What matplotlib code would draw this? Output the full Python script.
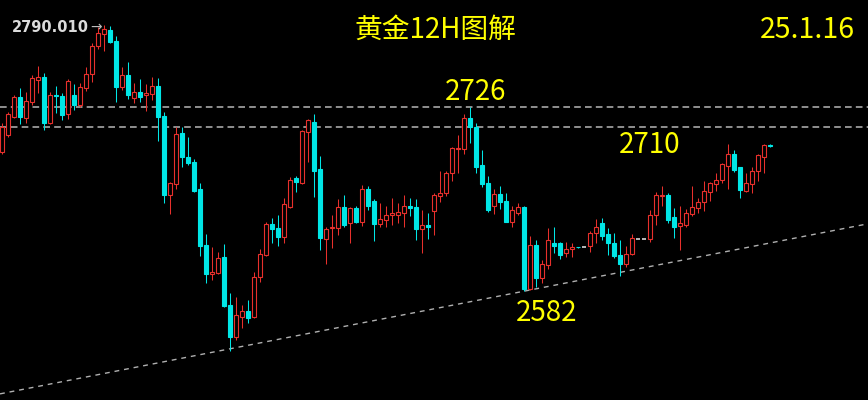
import numpy as np
import matplotlib.pyplot as plt
from matplotlib.patches import Rectangle

plt.rcParams['font.family'] = ['Noto Sans CJK SC', 'DejaVu Sans']

# 12H candles, oldest first
opens = [2691.0, 2704.1, 2718.4, 2733.6, 2717.2, 2730.2, 2747.1, 2749.7, 2713.7, 2735.4,
         2734.6, 2720.5, 2735.4, 2727.6, 2740.6, 2751.8, 2773.7, 2783.1, 2786.3, 2777.9,
         2741.9, 2751.0, 2732.8, 2738.0, 2735.4, 2736.2, 2742.4, 2719.0, 2657.1, 2665.7,
         2705.4, 2687.1, 2683.2, 2661.6, 2618.0, 2595.3, 2596.3, 2608.8, 2571.0, 2545.8,
         2561.9, 2566.6, 2561.4, 2592.7, 2610.2, 2634.4, 2631.1, 2624.0, 2647.5, 2670.2,
         2666.8, 2706.7, 2714.5, 2677.2, 2622.5, 2631.1, 2631.1, 2647.5, 2635.5, 2646.7,
         2636.2, 2661.6, 2652.7, 2634.4, 2637.6, 2641.5, 2641.5, 2643.3, 2648.5, 2647.5,
         2630.3, 2633.7, 2644.8, 2656.4, 2658.5, 2674.1, 2692.9, 2692.9, 2717.2, 2710.6,
         2680.6, 2666.3, 2648.5, 2657.9, 2652.7, 2636.2, 2643.3, 2648.0, 2583.3, 2618.0,
         2591.9, 2602.4, 2619.3, 2619.8, 2611.5, 2614.6, 2616.4, 2616.2, 2617.2, 2627.2,
         2635.5, 2626.6, 2619.8, 2610.2, 2603.1, 2611.0, 2622.9, 2622.9, 2622.5, 2641.5,
         2656.4, 2657.1, 2639.7, 2632.9, 2633.7, 2642.3, 2646.7, 2651.9, 2659.7, 2665.7,
         2668.9, 2679.8, 2689.2, 2678.8, 2660.5, 2665.7, 2676.2, 2687.1, 2696.0]
highs = [2713.5, 2722.3, 2735.4, 2740.6, 2738.0, 2751.0, 2758.1, 2752.4, 2738.0, 2742.4,
         2736.7, 2747.7, 2744.0, 2744.5, 2757.1, 2775.9, 2788.8, 2790.0, 2789.5, 2781.6,
         2757.1, 2761.5, 2745.0, 2747.7, 2744.0, 2749.7, 2748.5, 2722.3, 2667.5, 2710.1,
         2710.1, 2702.8, 2685.1, 2666.3, 2626.6, 2616.2, 2612.8, 2618.6, 2580.7, 2577.1,
         2571.0, 2575.0, 2597.1, 2614.6, 2636.2, 2638.9, 2641.5, 2654.5, 2671.0, 2672.0,
         2708.0, 2716.4, 2720.5, 2687.7, 2632.3, 2641.5, 2653.8, 2657.1, 2647.5, 2648.5,
         2665.0, 2664.2, 2653.8, 2651.1, 2648.5, 2654.5, 2651.1, 2657.1, 2654.5, 2653.8,
         2645.4, 2642.8, 2658.5, 2676.2, 2676.2, 2694.9, 2704.1, 2720.5, 2726.0, 2713.2,
         2692.3, 2672.0, 2661.6, 2664.2, 2658.5, 2648.5, 2651.1, 2648.5, 2625.0, 2621.9,
         2606.3, 2631.1, 2632.3, 2620.6, 2620.6, 2619.3, 2616.6, 2616.4, 2629.2, 2638.1,
         2638.9, 2631.1, 2627.6, 2621.9, 2617.2, 2626.6, 2623.0, 2623.0, 2645.4, 2659.7,
         2664.2, 2658.5, 2646.7, 2648.5, 2645.9, 2664.2, 2654.5, 2668.3, 2667.5, 2674.6,
         2682.4, 2697.0, 2692.3, 2679.3, 2674.6, 2679.3, 2689.2, 2697.0, 2697.0]
lows = [2689.2, 2702.8, 2717.2, 2712.7, 2713.2, 2727.6, 2736.7, 2708.0, 2713.0, 2721.1,
        2715.8, 2716.4, 2723.7, 2726.2, 2738.8, 2745.8, 2771.2, 2770.1, 2775.9, 2730.2,
        2739.3, 2732.0, 2728.9, 2730.2, 2723.1, 2731.5, 2699.6, 2651.1, 2642.3, 2661.6,
        2678.8, 2680.6, 2659.7, 2609.4, 2588.0, 2590.6, 2595.3, 2569.8, 2535.3, 2543.7,
        2552.8, 2557.2, 2560.6, 2589.3, 2609.4, 2619.8, 2617.2, 2619.8, 2646.7, 2659.7,
        2666.0, 2683.2, 2655.8, 2614.1, 2603.1, 2615.4, 2625.8, 2631.9, 2619.8, 2635.0,
        2632.9, 2645.4, 2621.4, 2631.9, 2632.3, 2633.7, 2635.0, 2631.9, 2640.7, 2621.9,
        2611.5, 2622.5, 2625.8, 2651.9, 2656.4, 2668.3, 2674.1, 2689.2, 2698.1, 2674.1,
        2663.2, 2644.1, 2642.3, 2645.9, 2636.0, 2631.9, 2641.5, 2582.0, 2582.5, 2585.4,
        2588.0, 2599.0, 2611.5, 2606.8, 2608.4, 2608.4, 2616.0, 2616.0, 2612.8, 2619.8,
        2621.9, 2610.2, 2607.6, 2593.7, 2601.0, 2610.2, 2622.8, 2622.8, 2620.6, 2633.7,
        2648.5, 2635.0, 2623.2, 2614.1, 2631.9, 2640.7, 2643.3, 2644.8, 2652.7, 2660.5,
        2666.8, 2661.6, 2675.4, 2654.5, 2659.7, 2658.5, 2668.3, 2674.6, 2694.5]
closes = [2710.6, 2720.5, 2733.6, 2717.9, 2730.9, 2748.5, 2749.7, 2713.7, 2735.4, 2734.6,
          2719.7, 2746.6, 2727.6, 2741.4, 2751.8, 2773.7, 2784.2, 2786.8, 2777.1, 2741.9,
          2751.0, 2735.4, 2738.0, 2734.1, 2736.7, 2742.4, 2718.4, 2657.1, 2666.3, 2704.9,
          2686.6, 2681.9, 2660.5, 2617.2, 2595.3, 2597.1, 2607.6, 2570.3, 2545.8, 2563.2,
          2566.6, 2560.6, 2593.2, 2611.0, 2634.4, 2630.3, 2624.0, 2650.1, 2668.9, 2667.5,
          2707.5, 2715.8, 2676.2, 2623.2, 2630.3, 2632.3, 2647.5, 2633.7, 2646.7, 2636.2,
          2661.6, 2648.5, 2634.4, 2638.1, 2641.5, 2642.8, 2644.1, 2648.5, 2646.7, 2630.3,
          2633.7, 2631.9, 2657.1, 2658.9, 2674.6, 2693.7, 2693.7, 2717.2, 2710.6, 2678.8,
          2665.7, 2645.4, 2657.9, 2651.9, 2636.2, 2645.4, 2647.5, 2583.5, 2618.0, 2591.9,
          2603.1, 2621.9, 2617.2, 2610.2, 2614.6, 2616.2, 2616.2, 2616.2, 2627.6, 2632.3,
          2625.0, 2619.8, 2609.4, 2603.1, 2611.0, 2623.2, 2622.9, 2622.9, 2641.5, 2657.1,
          2657.1, 2637.6, 2631.9, 2635.5, 2643.3, 2647.5, 2651.9, 2660.5, 2666.8, 2668.9,
          2681.4, 2689.2, 2676.7, 2661.0, 2666.8, 2676.2, 2688.4, 2696.3, 2695.5]

resistance_levels = [2726, 2710]
support_x = [-0.283, 144.38]
support_y = [2501.5, 2634.6]
peak_high = "2790.010"
title = "黄金12H图解"
date_label = "25.1.16"
price_notes = [("2726", 78.9, 2737.5), ("2710", 108.0, 2696.5), ("2582", 90.8, 2565.0)]

up_col = '#e8302c'
down_col = '#00e6e6'
flat_col = '#d8d8d8'
yellow = '#ffff00'

fig = plt.figure(figsize=(8.68, 4.0), dpi=100, facecolor='black')
ax = fig.add_axes([0, 0, 1, 1])
ax.set_facecolor('black')
ax.set_xlim(-0.283, 144.38)
ax.set_ylim(2496.7, 2809.74)
ax.axis('off')

for lvl in resistance_levels:
    ax.axhline(lvl, color='#a8a8a8', lw=1.2, dashes=(4, 2.5), zorder=1)
ax.plot(support_x, support_y, color='#b0b0b0', lw=1.0, dashes=(3.5, 3.5), zorder=1)

w = 0.72
for i, (o, h, l, c) in enumerate(zip(opens, highs, lows, closes)):
    if c > o:
        col = up_col
        face = 'black'
    elif c < o:
        col = down_col
        face = down_col
    else:
        ax.hlines(o, i - w / 2, i + w / 2, color=flat_col, lw=1.2, zorder=3)
        continue
    ax.vlines(i, l, h, color=col, lw=0.75, zorder=2)
    ax.add_patch(Rectangle((i - w / 2, min(o, c)), w, max(abs(c - o), 0.6),
                           facecolor=face, edgecolor=col, lw=0.8, zorder=3))

for txt, xi, yi in price_notes:
    ax.text(xi, yi, txt, color=yellow, fontsize=20, ha='center', va='center')

fig.text(435 / 868, 1 - 30 / 400, title, color=yellow, fontsize=20, ha='center', va='center')
fig.text(807 / 868, 1 - 30 / 400, date_label, color=yellow, fontsize=20.5, ha='center', va='center')
fig.text(12 / 868, 1 - 27 / 400, peak_high, color='#dcdcdc', fontsize=10.5, fontweight='bold',
         family='DejaVu Sans', ha='left', va='center')
fig.text(90 / 868, 1 - 27 / 400, '→', color='#bbbbbb', fontsize=10,
         family='DejaVu Sans', ha='left', va='center')

fig.savefig('out.png', dpi=100, facecolor='black')
